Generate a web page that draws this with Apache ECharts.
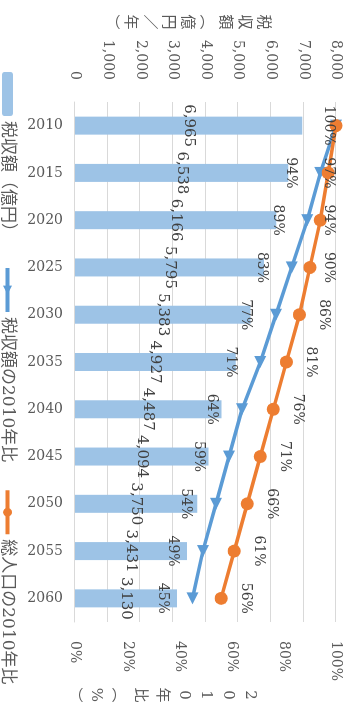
<!DOCTYPE html>
<html>
<head>
<meta charset="utf-8">
<script src="https://cdn.jsdelivr.net/npm/echarts@6/dist/echarts.min.js"></script>
<style>
  html, body { margin: 0; padding: 0; background: #ffffff; overflow: hidden; }
  #frame { position: relative; width: 354px; height: 707px; overflow: hidden; background: #ffffff; }
  /* the chart is laid out landscape and turned a quarter turn clockwise */
  #chart { position: absolute; left: 0; top: 0; width: 707px; height: 354px;
           transform-origin: 0 0; transform: translate(354px, 0) rotate(90deg); }
</style>
</head>
<body>
<div id="frame"><div id="chart"></div></div>
<script>
// 年
const years = ['2010', '2015', '2020', '2025', '2030', '2035', '2040', '2045', '2050', '2055', '2060'];
// 税収額（億円／年）
const revenue = [6965, 6538, 6166, 5795, 5383, 4927, 4487, 4094, 3750, 3431, 3130];
// 税収額の2010年比（%）
const revenueRatio = [100, 94, 89, 83, 77, 71, 64, 59, 54, 49, 45];
// 総人口の2010年比（%）
const populationRatio = [100, 97, 94, 90, 86, 81, 76, 71, 66, 61, 56];
// 軸の目盛
const revenueTicks = [0, 1000, 2000, 3000, 4000, 5000, 6000, 7000, 8000];
const ratioTicks = [0, 20, 40, 60, 80, 100];

const SERIF = "'DejaVu Serif', 'Noto Sans CJK JP', serif";
const GRAY = '#595959';
const DARK = '#404040';
const BLUE = '#5B9BD5';
const ORANGE = '#ED7D31';
const BAR = '#9DC3E6';

const chart = echarts.init(document.getElementById('chart'), null, { renderer: 'canvas' });

const fmtNum = v => Number(v).toLocaleString('en-US');

function buildOption(orangeOffsets) {
  return {
    backgroundColor: '#ffffff',
    animation: false,
    grid: { left: 102, right: 85, top: 18, bottom: 75 },
    legend: {
      left: 72, top: 338, width: 635, padding: 0,
      itemWidth: 44, itemHeight: 11, itemGap: 26,
      lineStyle: { width: 4 },
      textStyle: { fontFamily: SERIF, fontSize: 17, color: GRAY },
      data: ['税収額（億円）', '税収額の2010年比', '総人口の2010年比']
    },
    xAxis: {
      type: 'category',
      data: years,
      axisLine: { show: true, lineStyle: { color: '#d9d9d9', width: 1 } },
      axisTick: { show: false },
      axisLabel: { rotate: 90, margin: 12, fontFamily: SERIF, fontSize: 14, color: GRAY }
    },
    yAxis: [
      {
        type: 'value', position: 'left',
        min: revenueTicks[0], max: revenueTicks[revenueTicks.length - 1],
        interval: revenueTicks[1] - revenueTicks[0],
        axisLine: { show: false }, axisTick: { show: false },
        axisLabel: { margin: 22, fontFamily: SERIF, fontSize: 14, color: GRAY, formatter: fmtNum },
        splitLine: { lineStyle: { color: '#d9d9d9', width: 1 } }
      },
      {
        type: 'value', position: 'right',
        min: ratioTicks[0], max: ratioTicks[ratioTicks.length - 1],
        interval: ratioTicks[1] - ratioTicks[0],
        axisLine: { show: false }, axisTick: { show: false },
        axisLabel: { margin: 19, fontFamily: SERIF, fontSize: 14, color: GRAY, formatter: '{value}%' },
        splitLine: { show: false }
      }
    ],
    series: [
      {
        name: '税収額（億円）',
        type: 'bar',
        yAxisIndex: 0,
        barWidth: 18,
        itemStyle: { color: BAR },
        data: revenue,
        z: 1,
        label: {
          show: true, position: 'inside',
          fontFamily: SERIF, fontSize: 15, color: DARK,
          formatter: p => fmtNum(p.value)
        }
      },
      {
        name: '税収額の2010年比',
        type: 'line',
        yAxisIndex: 1,
        data: revenueRatio.map((v, i) => i === 0 ? { value: v, label: { show: false } } : v),
        symbol: 'triangle', symbolSize: 12, symbolRotate: -90,
        lineStyle: { color: BLUE, width: 3.5 },
        itemStyle: { color: BLUE },
        z: 3,
        label: {
          show: true, position: 'inside', offset: [0, 30],
          fontFamily: SERIF, fontSize: 14, color: DARK, formatter: '{c}%'
        }
      },
      {
        name: '総人口の2010年比',
        type: 'line',
        yAxisIndex: 1,
        data: populationRatio.map((v, i) => ({
          value: v,
          label: { offset: [0, orangeOffsets ? orangeOffsets[i] : -24] }
        })),
        symbol: 'circle', symbolSize: 13,
        lineStyle: { color: ORANGE, width: 3.5 },
        itemStyle: { color: ORANGE },
        z: 4,
        label: {
          show: true, position: 'inside',
          fontFamily: SERIF, fontSize: 14, color: DARK, formatter: '{c}%'
        }
      }
    ],
    graphic: [
      {
        type: 'text', silent: true,
        style: {
          text: '税\n収\n額\n︵\n億\n円\n／\n年\n︶',
          x: 22, y: 167, align: 'center', verticalAlign: 'middle',
          lineHeight: 19, fontSize: 15, fontFamily: SERIF, fill: GRAY
        }
      },
      {
        type: 'text', silent: true,
        style: {
          text: '2\n0\n1\n0\n年\n比\n︵\n%\n︶',
          x: 695, y: 192, align: 'center', verticalAlign: 'middle',
          lineHeight: 22, fontSize: 15, fontFamily: SERIF, fill: GRAY
        }
      }
    ]
  };
}

chart.setOption(buildOption(null));

// keep the population labels inside the plot near the 100% line
const gridTop = 18;
const orangeOffsets = populationRatio.map(v => {
  const py = chart.convertToPixel({ yAxisIndex: 1 }, v);
  return -Math.min(24, py - (gridTop + 7));
});
chart.setOption(buildOption(orangeOffsets));
</script>
</body>
</html>
